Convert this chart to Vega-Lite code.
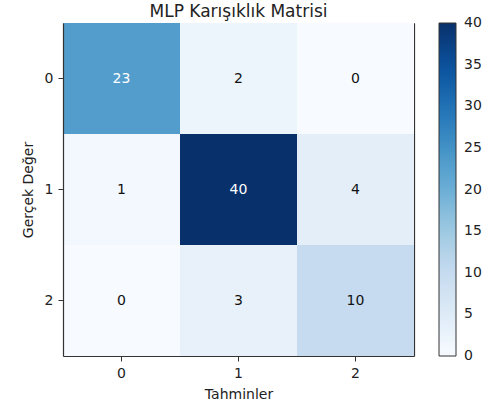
{
  "$schema": "https://vega.github.io/schema/vega-lite/v6.json",
  "autosize": {"type": "none"},
  "padding": {"left": 63, "top": 23, "right": 83, "bottom": 61},
  "width": 351,
  "height": 333,
  "background": "white",
  "config": {
    "font": "DejaVu Sans",
    "view": {"stroke": null},
    "axis": {"labelFont": "DejaVu Sans", "titleFont": "DejaVu Sans", "labelColor": "#222", "titleColor": "#222", "tickColor": "#333", "domainColor": "#333", "domainWidth": 1.2, "domain": true, "grid": false}
  },
  "title": {"text": "MLP Karışıklık Matrisi", "font": "DejaVu Sans", "fontSize": 17, "fontWeight": "normal", "color": "#222", "anchor": "middle", "offset": 2},
  "data": {"values": [
    {"actual": "0", "pred": "0", "count": 23},
    {"actual": "0", "pred": "1", "count": 2},
    {"actual": "0", "pred": "2", "count": 0},
    {"actual": "1", "pred": "0", "count": 1},
    {"actual": "1", "pred": "1", "count": 40},
    {"actual": "1", "pred": "2", "count": 4},
    {"actual": "2", "pred": "0", "count": 0},
    {"actual": "2", "pred": "1", "count": 3},
    {"actual": "2", "pred": "2", "count": 10}
  ]},
  "resolve": {"axis": {"x": "independent", "y": "independent"}},
  "layer": [
    {
      "mark": {"type": "rect"},
      "encoding": {
        "x": {"field": "pred", "type": "ordinal", "scale": {"paddingInner": 0, "paddingOuter": 0}, "axis": {"title": "Tahminler", "labelAngle": 0, "labelFontSize": 14, "titleFontSize": 14, "titleFontWeight": "normal", "tickSize": 5, "labelPadding": 5, "titlePadding": 7}},
        "y": {"field": "actual", "type": "ordinal", "scale": {"paddingInner": 0, "paddingOuter": 0}, "axis": {"title": "Gerçek Değer", "labelFontSize": 14, "titleFontSize": 14, "titleFontWeight": "normal", "tickSize": 5, "labelPadding": 5, "titlePadding": 9}},
        "color": {
          "field": "count", "type": "quantitative",
          "scale": {"domain": [0, 5, 10, 15, 20, 25, 30, 35, 40], "range": ["#f7fbff", "#deebf7", "#c6dbef", "#9ecae1", "#6baed6", "#4292c6", "#2171b5", "#08519c", "#08306b"]},
          "legend": {"title": null, "orient": "none", "legendX": 376, "legendY": 0, "direction": "vertical", "gradientLength": 333, "gradientThickness": 17, "gradientStrokeColor": "#333", "gradientStrokeWidth": 1, "values": [0, 5, 10, 15, 20, 25, 30, 35, 40], "labelFontSize": 14, "labelColor": "#222", "labelFont": "DejaVu Sans", "labelOffset": 8, "labelOverlap": false,
            "encode": {"labels": {"update": {"baseline": {"value": "middle"}}}}}
        }
      }
    },
    {
      "mark": {"type": "text", "fontSize": 14, "font": "DejaVu Sans"},
      "encoding": {
        "x": {"field": "pred", "type": "ordinal", "scale": {"paddingInner": 0, "paddingOuter": 0}, "axis": {"orient": "top", "title": null, "labels": false, "ticks": false}},
        "y": {"field": "actual", "type": "ordinal", "scale": {"paddingInner": 0, "paddingOuter": 0}, "axis": {"orient": "right", "title": null, "labels": false, "ticks": false}},
        "text": {"field": "count", "type": "quantitative"},
        "color": {"condition": {"test": "datum.count > 20", "value": "white"}, "value": "#111"}
      }
    }
  ]
}
